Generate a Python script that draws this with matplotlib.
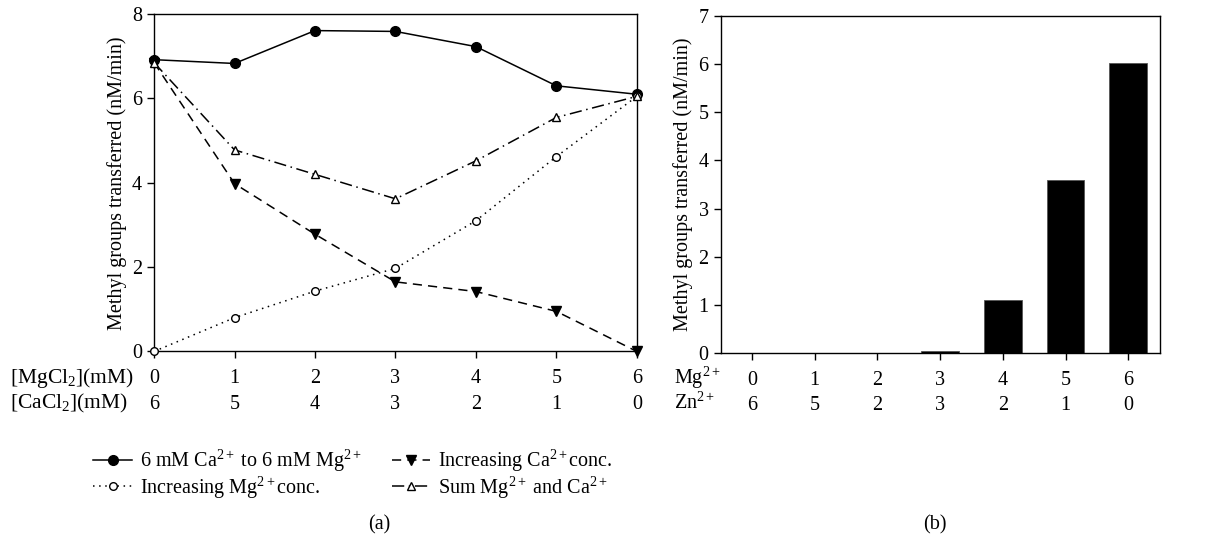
import matplotlib
matplotlib.use("Agg")
import matplotlib.pyplot as plt

plt.rcParams["font.family"] = "Liberation Serif"
plt.rcParams["mathtext.fontset"] = "custom"
plt.rcParams["mathtext.rm"] = "Liberation Serif"
plt.rcParams["mathtext.it"] = "Liberation Serif:italic"
plt.rcParams["font.size"] = 14.5

# panel (a)
mg_conc = [0, 1, 2, 3, 4, 5, 6]
ca_conc = [6, 5, 4, 3, 2, 1, 0]
ca_to_mg = [6.92, 6.83, 7.61, 7.59, 7.23, 6.30, 6.10]
inc_mg = [0.0, 0.80, 1.43, 1.97, 3.10, 4.62, 6.05]
inc_ca = [6.85, 3.98, 2.78, 1.65, 1.42, 0.95, 0.0]
sum_mg_ca = [6.85, 4.78, 4.20, 3.62, 4.52, 5.55, 6.05]

# panel (b)
mg_b = [0, 1, 2, 3, 4, 5, 6]
zn_b = [6, 5, 2, 3, 2, 1, 0]
rate_b = [0.0, 0.0, 0.0, 0.05, 1.10, 3.60, 6.02]

sup = r"$^{\mathregular{2+}}$"
ylab = "Methyl groups transferred (nM/min)"
FS = 14.5

fig = plt.figure(figsize=(12.13, 5.44), dpi=100)
ax1 = fig.add_axes([0.127, 0.354, 0.398, 0.620])
ax2 = fig.add_axes([0.594, 0.351, 0.362, 0.620])

ax1.plot(mg_conc, ca_to_mg, color="black", lw=1.1, marker="o", ms=7,
         label="6 mM Ca" + sup + " to 6 mM Mg" + sup, clip_on=False, zorder=3)
ax1.plot(mg_conc, inc_mg, color="black", lw=1.1, ls=(0, (1, 3)), marker="o",
         ms=5.5, mfc="white", mew=1.0, label="Increasing Mg" + sup + "conc.",
         clip_on=False, zorder=3)
ax1.plot(mg_conc, inc_ca, color="black", lw=1.1, ls=(0, (6, 4)), marker="v",
         ms=7, label="Increasing Ca" + sup + "conc.", clip_on=False, zorder=3)
ax1.plot(mg_conc, sum_mg_ca, color="black", lw=1.1, ls=(0, (8, 3, 1, 3)),
         marker="^", ms=6, mfc="white", mew=1.0,
         label="Sum Mg" + sup + " and Ca" + sup, clip_on=False, zorder=3)

ax1.set_xlim(0, 6)
ax1.set_ylim(0, 8)
ax1.set_yticks([0, 2, 4, 6, 8])
ax1.set_xticks(mg_conc)
ax1.set_xticklabels([f"{m}\n{c}" for m, c in zip(mg_conc, ca_conc)],
                    linespacing=1.45)
ax1.set_ylabel(ylab, labelpad=4, fontsize=FS)
ax1.tick_params(direction="out", length=5, width=1, colors="black",
                labelsize=FS)
ax1.tick_params(axis="x", pad=8)
for s in ax1.spines.values():
    s.set_linewidth(1.0)

fig.text(0.008, 0.305, r"[MgCl$_{\mathregular{2}}$](mM)", fontsize=15.5,
         va="center", ha="left")
fig.text(0.008, 0.259, r"[CaCl$_{\mathregular{2}}$](mM)", fontsize=15.5,
         va="center", ha="left")

handles, labels = ax1.get_legend_handles_labels()
fig.legend(handles, labels, ncol=2, frameon=False, loc="center left",
           bbox_to_anchor=(0.077, 0.128), fontsize=FS, handlelength=1.9,
           handletextpad=0.4, columnspacing=1.5, labelspacing=0.0,
           borderaxespad=0, borderpad=0)

fig.text(0.313, 0.036, "(a)", ha="center", va="center", fontsize=FS)
fig.text(0.771, 0.036, "(b)", ha="center", va="center", fontsize=FS)

# panel (b)
ax2.bar(mg_b, rate_b, width=0.6, color="black", edgecolor="#555555", lw=0.6)
ax2.set_xlim(-0.5, 6.5)
ax2.set_ylim(0, 7)
ax2.set_yticks(range(0, 8))
ax2.set_xticks(mg_b)
ax2.set_xticklabels([f"{m}\n{z}" for m, z in zip(mg_b, zn_b)],
                    linespacing=1.45)
ax2.set_ylabel(ylab, labelpad=4, fontsize=FS)
ax2.tick_params(direction="out", length=5, width=1, colors="black",
                labelsize=FS)
ax2.tick_params(axis="x", pad=8)
for s in ax2.spines.values():
    s.set_linewidth(1.0)

fig.text(0.556, 0.305, "Mg" + sup, fontsize=FS, va="center", ha="left")
fig.text(0.556, 0.259, "Zn" + sup, fontsize=FS, va="center", ha="left")

fig.savefig("out.png", dpi=100)
